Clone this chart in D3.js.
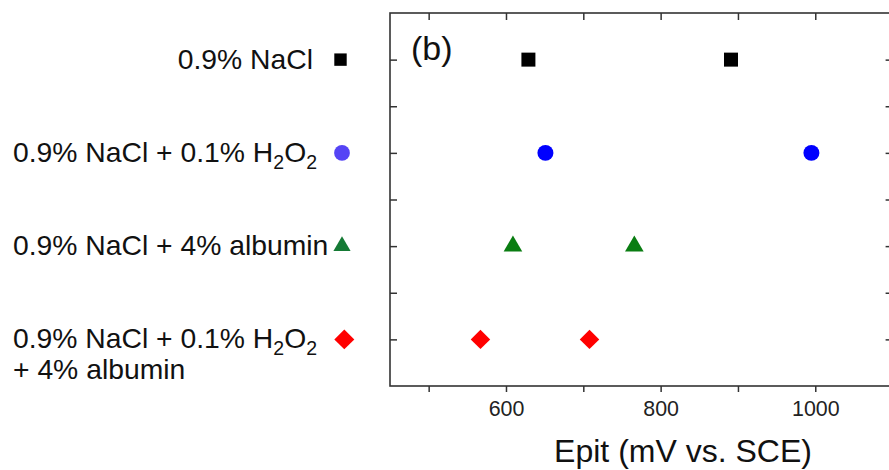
<!DOCTYPE html>
<html>
<head>
<meta charset="utf-8">
<script src="https://cdn.jsdelivr.net/npm/d3@7"></script>
<style>
  html, body { margin: 0; padding: 0; background: #fff; }
  svg { display: block; font-family: "Liberation Sans", Arial, sans-serif; }
</style>
</head>
<body>
<svg id="chart" width="889" height="470"></svg>
<script>
// ---- data ----
const categories = ["0.9% NaCl", "0.9% NaCl + 0.1% H2O2", "0.9% NaCl + 4% albumin", "0.9% NaCl + 0.1% H2O2 + 4% albumin"];
const series1 = [629, 891];   // 0.9% NaCl
const series2 = [651, 995];   // + H2O2
const series3 = [609, 766];   // + albumin
const series4 = [567, 708];   // + H2O2 + albumin
const xTicks = [500, 600, 700, 800, 900, 1000, 1100];
const xTickLabels = [600, 800, 1000];
const yTicks = [1, 1.5, 2, 2.5, 3, 3.5, 4];
const xTitle = "Epit (mV vs. SCE)";
const panelLabel = "(b)";

const svg = d3.select("#chart");
const x = d3.scaleLinear().domain([450, 1100]).range([390, 892.6]);
const y = d3.scaleLinear().domain([0.5, 4.5]).range([13, 386]);

const axisColor = "#333";

// frame
svg.append("rect")
  .attr("x", x(450)).attr("y", y(0.5))
  .attr("width", x(1100) - x(450)).attr("height", y(4.5) - y(0.5))
  .attr("fill", "none").attr("stroke", axisColor).attr("stroke-width", 1.6);

function styleAxis(g) {
  g.select(".domain").remove();
  g.selectAll(".tick line").attr("stroke", axisColor).attr("stroke-width", 1.5);
}

// bottom axis (outward ticks)
svg.append("g").attr("transform", `translate(0,${y(4.5)})`)
  .call(d3.axisBottom(x).tickValues(xTicks).tickSize(6).tickPadding(9)
    .tickFormat(d => xTickLabels.includes(d) ? d : ""))
  .call(styleAxis)
  .call(g => g.selectAll(".tick text").attr("font-size", 21.4).attr("fill", "#222")
    .attr("font-family", "Liberation Sans, Arial, sans-serif"));

// top axis (inward)
svg.append("g").attr("transform", `translate(0,${y(0.5)})`)
  .call(d3.axisTop(x).tickValues(xTicks).tickSize(-7).tickFormat(""))
  .call(styleAxis);

// left axis (inward)
svg.append("g").attr("transform", `translate(${x(450)},0)`)
  .call(d3.axisLeft(y).tickValues(yTicks).tickSize(-7).tickFormat(""))
  .call(styleAxis);

// right axis (inward)
svg.append("g").attr("transform", `translate(${x(1100)},0)`)
  .call(d3.axisRight(y).tickValues(yTicks).tickSize(-7).tickFormat(""))
  .call(styleAxis);

// x title
svg.append("text")
  .attr("x", 683).attr("y", 462)
  .attr("text-anchor", "middle")
  .attr("font-size", 32).attr("fill", "#111")
  .text(xTitle);

// panel label
svg.append("text")
  .attr("x", 411).attr("y", 60)
  .attr("font-size", 34).attr("fill", "#111")
  .text(panelLabel);

// markers
const seriesDefs = [
  { vals: series1, row: 1, type: d3.symbolSquare, size: 196, rot: 0, color: "#000000", legColor: "#000000", legSize: 154, legX: 340.5 },
  { vals: series2, row: 2, type: d3.symbolCircle, size: 201, rot: 0, color: "#0000ff", legColor: "#5544f5", legSize: 194, legX: 342 },
  { vals: series3, row: 3, type: d3.symbolTriangle, size: 150, rot: 0, color: "#0a7d12", legColor: "#157a35", legSize: 128, legX: 342 },
  { vals: series4, row: 4, type: d3.symbolSquare, size: 190, rot: 45, color: "#ff0000", legColor: "#ff0000", legSize: 200, legX: 344.3 }
];

seriesDefs.forEach(s => {
  svg.append("g").selectAll("path").data(s.vals).join("path")
    .attr("d", d3.symbol().type(s.type).size(s.size))
    .attr("transform", d => `translate(${x(d)},${y(s.row)}) rotate(${s.rot})`)
    .attr("fill", s.color);
  // legend marker
  svg.append("path")
    .attr("d", d3.symbol().type(s.type).size(s.legSize))
    .attr("transform", `translate(${s.legX},${y(s.row)}) rotate(${s.rot})`)
    .attr("fill", s.legColor);
});

// category labels
const labFont = 28.3;
const subFont = 19.5;
const subShift = 7;
function addLabel(parts, xPos, yPos, anchor) {
  const t = svg.append("text").attr("x", xPos).attr("y", yPos)
    .attr("font-size", labFont).attr("fill", "#111").attr("text-anchor", anchor);
  let prevSub = false;
  parts.forEach(p => {
    const ts = t.append("tspan").text(p.t);
    if (p.sub) {
      ts.attr("font-size", subFont).attr("dy", prevSub ? 0 : subShift);
    } else if (prevSub) {
      ts.attr("dy", -subShift);
    }
    prevSub = !!p.sub;
  });
  return t;
}
const labY = r => y(r) + 9;
addLabel([{ t: "0.9% NaCl" }], 313, labY(1), "end");
addLabel([{ t: "0.9% NaCl + 0.1% H" }, { t: "2", sub: true }, { t: "O" }, { t: "2", sub: true }], 13, labY(2), "start");
addLabel([{ t: "0.9% NaCl + 4% albumin" }], 13, labY(3), "start");
addLabel([{ t: "0.9% NaCl + 0.1% H" }, { t: "2", sub: true }, { t: "O" }, { t: "2", sub: true }], 13, labY(4), "start");
addLabel([{ t: "+ 4% albumin" }], 13, labY(4) + 31, "start");
</script>
</body>
</html>
